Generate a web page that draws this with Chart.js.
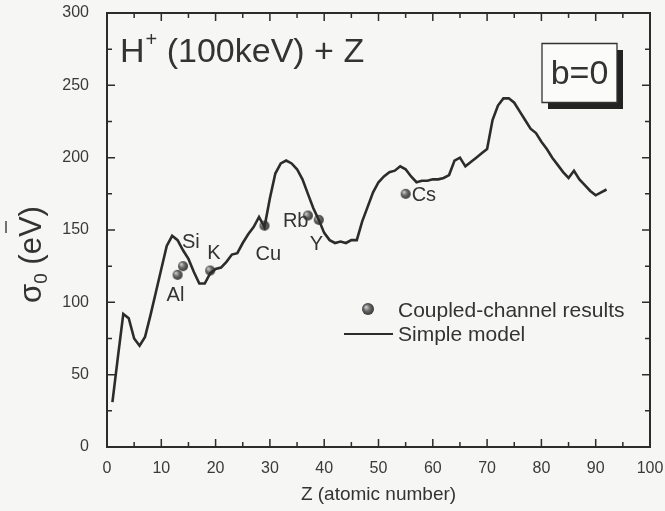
<!DOCTYPE html>
<html>
<head>
<meta charset="utf-8">
<script src="https://cdn.jsdelivr.net/npm/chart.js@4.4.1/dist/chart.umd.min.js"></script>
<style>
  html, body { margin: 0; padding: 0; background: #f6f6f4; }
  #wrap { width: 665px; height: 511px; }
</style>
</head>
<body>
<div id="wrap"><canvas id="chart" width="665" height="511"></canvas></div>
<script>
// simple model curve: atomic number Z vs sigma_0 (eV)
const modelZ = [1, 2, 3, 4, 5, 6, 7, 8, 9, 10, 11, 12, 13, 14, 15, 16, 17, 18, 19, 20,
    21, 22, 23, 24, 25, 26, 27, 28, 29, 30, 31, 32, 33, 34, 35, 36, 37, 38, 39, 40,
    41, 42, 43, 44, 45, 46, 47, 48, 49, 50, 51, 52, 53, 54, 55, 56, 57, 58, 59, 60,
    61, 62, 63, 64, 65, 66, 67, 68, 69, 70, 71, 72, 73, 74, 75, 76, 77, 78, 79, 80,
    81, 82, 83, 84, 85, 86, 87, 88, 89, 90, 91, 92];
const modelSigma = [31, 62, 92, 89, 75, 70, 76, 91, 107, 123, 139, 146, 143, 136, 130, 121, 113, 113, 120, 123,
    124, 128, 133, 134, 141, 147, 152, 159, 152, 172, 189, 196, 198, 196, 192, 185, 175, 165, 157, 148,
    143, 141, 142, 141, 143, 143, 156, 166, 176, 183, 187, 190, 191, 194, 192, 187, 183, 184, 184, 185,
    185, 186, 188, 198, 200, 194, 197, 200, 203, 206, 226, 236, 241, 241, 238, 232, 226, 220, 217, 211,
    206, 200, 195, 190, 186, 191, 185, 181, 177, 174, 176, 178];

// coupled-channel results
const ccElements = ['Al', 'Si', 'K', 'Cu', 'Rb', 'Y', 'Cs'];
const ccZ = [13, 14, 19, 29, 37, 39, 55];
const ccSigma = [119, 125, 122, 153, 160, 157, 175];

const xTicks = [0, 10, 20, 30, 40, 50, 60, 70, 80, 90, 100];
const yTicks = [0, 50, 100, 150, 200, 250, 300];

// label placement relative to each point (px)
const labelOffsets = [[-11, 26], [-1, -18], [-3, -12], [-9, 34], [-25, 11], [-9, 30], [6, 7]];

const FONT = '"Liberation Sans", Arial, sans-serif';
const INK = '#2c2c2c';

function makeBall(r) {
    const c = document.createElement('canvas');
    c.width = c.height = r * 2 + 2;
    const g = c.getContext('2d');
    const grad = g.createRadialGradient(r - 1, r - 1, 0.5, r + 1, r + 1, r + 0.5);
    grad.addColorStop(0, '#c8c8c8');
    grad.addColorStop(0.45, '#6a6a6a');
    grad.addColorStop(1, '#303030');
    g.fillStyle = grad;
    g.beginPath();
    g.arc(r + 1, r + 1, r, 0, Math.PI * 2);
    g.fill();
    return c;
}
const ball = makeBall(5);
const legendBall = makeBall(6);

// keep chart.js from adding label overflow padding around the plot
function fixBox(s, size) {
    if (s.isHorizontal()) s.height = size; else s.width = size;
    s.paddingTop = 0; s.paddingBottom = 0; s.paddingLeft = 0; s.paddingRight = 0;
}

const decor = {
    id: 'decor',
    beforeDraw(chart) {
        const ctx = chart.ctx;
        ctx.save();
        ctx.fillStyle = '#f6f6f4';
        ctx.fillRect(0, 0, chart.width, chart.height);
        ctx.restore();
    },
    afterDraw(chart) {
        const ctx = chart.ctx;
        const xs = chart.scales.x, ys = chart.scales.y;
        const L = xs.getPixelForValue(0), R = xs.getPixelForValue(100);
        const B = ys.getPixelForValue(0), T = ys.getPixelForValue(300);
        ctx.save();

        // frame
        ctx.strokeStyle = INK;
        ctx.lineWidth = 2;
        ctx.beginPath();
        ctx.moveTo(L, T); ctx.lineTo(R, T); ctx.lineTo(R, B); ctx.lineTo(L, B); ctx.closePath();
        ctx.stroke();

        // inward ticks on all four sides
        ctx.lineWidth = 1.5;
        ctx.beginPath();
        for (let v = 0; v <= 100; v += 5) {
            const px = xs.getPixelForValue(v);
            const len = v % 10 === 0 ? 8 : 5;
            ctx.moveTo(px, B); ctx.lineTo(px, B - len);
            ctx.moveTo(px, T); ctx.lineTo(px, T + len);
        }
        for (let v = 0; v <= 300; v += 25) {
            const py = ys.getPixelForValue(v);
            const len = v % 50 === 0 ? 8 : 5;
            ctx.moveTo(L, py); ctx.lineTo(L + len, py);
            ctx.moveTo(R, py); ctx.lineTo(R - len, py);
        }
        ctx.stroke();

        ctx.fillStyle = '#333';
        ctx.textBaseline = 'alphabetic';

        // element labels
        ctx.font = '20px ' + FONT;
        ctx.textAlign = 'left';
        ccElements.forEach((el, i) => {
            const px = xs.getPixelForValue(ccZ[i]);
            const py = ys.getPixelForValue(ccSigma[i]);
            ctx.fillText(el, px + labelOffsets[i][0], py + labelOffsets[i][1]);
        });

        // title inside plot
        ctx.font = '34px ' + FONT;
        ctx.fillText('H', 120, 62);
        let x = 120 + ctx.measureText('H').width + 1;
        ctx.font = '20px ' + FONT;
        ctx.fillText('+', x, 46);
        x += ctx.measureText('+').width;
        ctx.font = '34px ' + FONT;
        ctx.fillText(' (100keV) + Z', x, 62);

        // b=0 box with shadow
        ctx.fillStyle = '#222';
        ctx.fillRect(548, 50, 75, 59);
        ctx.fillStyle = '#fbfbfa';
        ctx.fillRect(542, 43.5, 75, 59);
        ctx.strokeStyle = '#333';
        ctx.lineWidth = 1.3;
        ctx.beginPath();
        ctx.rect(542, 43.5, 75, 59);
        ctx.stroke();
        ctx.fillStyle = '#333';
        ctx.font = '34px ' + FONT;
        ctx.textAlign = 'center';
        ctx.fillText('b=0', 579.5, 84);

        // legend
        ctx.textAlign = 'left';
        ctx.drawImage(legendBall, 368 - 7, 309 - 7);
        ctx.font = '21px ' + FONT;
        ctx.fillText('Coupled-channel results', 398, 317);
        ctx.strokeStyle = INK;
        ctx.lineWidth = 2.2;
        ctx.beginPath();
        ctx.moveTo(344, 334); ctx.lineTo(393, 334);
        ctx.stroke();
        ctx.fillText('Simple model', 398, 341);

        // x axis title
        ctx.font = '19px ' + FONT;
        ctx.textAlign = 'center';
        ctx.fillText('Z (atomic number)', (L + R) / 2, 500);

        // y axis title: sigma_0 (eV), rotated
        ctx.translate(41, 303);
        ctx.rotate(-Math.PI / 2);
        ctx.textAlign = 'left';
        ctx.font = '31px ' + FONT;
        ctx.fillText('\u03c3', 0, 0);
        let tx = ctx.measureText('\u03c3').width;
        ctx.font = '19px ' + FONT;
        ctx.fillText('0', tx, 6);
        tx += ctx.measureText('0').width;
        ctx.font = '31px ' + FONT;
        ctx.fillText(' (eV)', tx, 0);
        ctx.strokeStyle = '#444';
        ctx.lineWidth = 1.5;
        ctx.beginPath();
        ctx.moveTo(70, -35); ctx.lineTo(82, -35);
        ctx.stroke();

        ctx.restore();
    }
};

new Chart(document.getElementById('chart'), {
    type: 'scatter',
    data: {
        datasets: [
            {
                label: 'Simple model',
                data: modelZ.map((z, i) => ({ x: z, y: modelSigma[i] })),
                showLine: true,
                borderColor: INK,
                borderWidth: 2.6,
                pointRadius: 0,
                tension: 0,
                fill: false
            },
            {
                label: 'Coupled-channel results',
                data: ccZ.map((z, i) => ({ x: z, y: ccSigma[i] })),
                showLine: false,
                pointStyle: ball,
                pointRadius: 5
            }
        ]
    },
    options: {
        responsive: false,
        animation: false,
        layout: { padding: { left: 0, top: 13, right: 15, bottom: 0 } },
        plugins: {
            legend: { display: false },
            tooltip: { enabled: false }
        },
        scales: {
            x: {
                type: 'linear',
                min: 0,
                max: 100,
                afterFit: s => fixBox(s, 64),
                afterBuildTicks: s => { s.ticks = xTicks.map(v => ({ value: v })); },
                ticks: { color: '#3a3a3a', font: { family: FONT, size: 16 }, padding: 4, maxRotation: 0 },
                grid: { display: false },
                border: { display: false }
            },
            y: {
                min: 0,
                max: 300,
                afterFit: s => fixBox(s, 107),
                afterBuildTicks: s => { s.ticks = yTicks.map(v => ({ value: v })); },
                ticks: { color: '#3a3a3a', font: { family: FONT, size: 16 }, padding: 10 },
                grid: { display: false },
                border: { display: false }
            }
        }
    },
    plugins: [decor]
});
</script>
</body>
</html>
